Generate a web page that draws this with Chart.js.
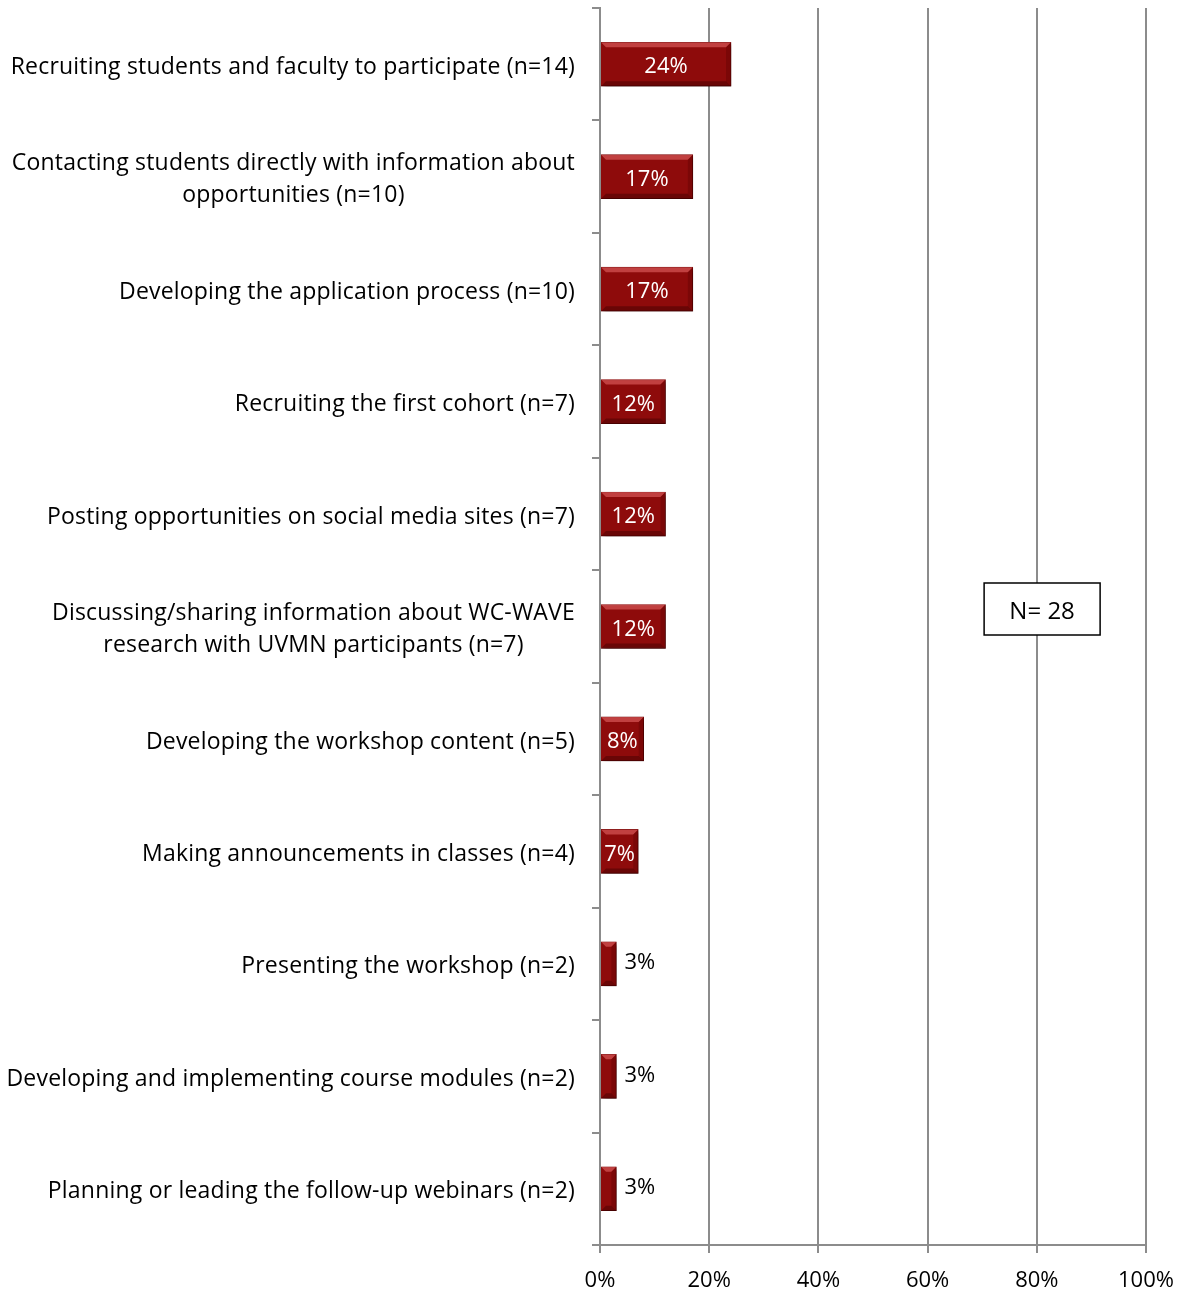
<!DOCTYPE html>
<html>
<head>
<meta charset="utf-8">
<title>Participation activities</title>
<script src="https://cdn.jsdelivr.net/npm/chart.js@4/dist/chart.umd.min.js"></script>
<style>
  html, body { margin: 0; padding: 0; background: #fff; }
  canvas { display: block; }
</style>
</head>
<body>
<canvas id="chart-activities" width="1182" height="1291"></canvas>
<script>
// category labels, one array per label line
var categories = [
    ["Recruiting students and faculty to participate (n=14)"],
    ["Contacting students directly with information about", "opportunities (n=10)"],
    ["Developing the application process (n=10)"],
    ["Recruiting the first cohort (n=7)"],
    ["Posting opportunities on social media sites (n=7)"],
    ["Discussing/sharing information about WC-WAVE", "research with UVMN participants (n=7)"],
    ["Developing the workshop content (n=5)"],
    ["Making announcements in classes (n=4)"],
    ["Presenting the workshop (n=2)"],
    ["Developing and implementing course modules (n=2)"],
    ["Planning or leading the follow-up webinars (n=2)"]
];
var percentValues = [24, 17, 17, 12, 12, 12, 8, 7, 3, 3, 3];
var xTickValues = [0, 20, 40, 60, 80, 100];
var sampleNote = "N= 28";

var FONT = "'Open Sans', 'Noto Sans', sans-serif";
var gridGray = "#8c8c8c";

// soft drop shadow under the bars
var barShadow = {
    id: "barShadow",
    beforeDatasetsDraw: function(chart) {
        var ctx = chart.ctx;
        ctx.save();
        ctx.shadowColor = "rgba(0,0,0,0.35)";
        ctx.shadowOffsetX = 3;
        ctx.shadowOffsetY = 3;
        ctx.shadowBlur = 4;
    },
    afterDatasetsDraw: function(chart) {
        var ctx = chart.ctx;
        ctx.restore();
        // bevel edges
        var meta = chart.getDatasetMeta(0);
        meta.data.forEach(function(bar) {
            var l = Math.min(bar.base, bar.x), r = Math.max(bar.base, bar.x);
            var t = bar.y - bar.height / 2, b = bar.y + bar.height / 2;
            var e = Math.min(5, (r - l) / 2);
            ctx.save();
            ctx.fillStyle = "rgba(235,110,110,0.55)";
            ctx.beginPath();
            ctx.moveTo(l, t); ctx.lineTo(r, t); ctx.lineTo(r - e, t + e); ctx.lineTo(l + e, t + e);
            ctx.closePath(); ctx.fill();
            ctx.fillStyle = "rgba(60,0,0,0.45)";
            ctx.beginPath();
            ctx.moveTo(l, b); ctx.lineTo(r, b); ctx.lineTo(r - e, b - e); ctx.lineTo(l + e, b - e);
            ctx.closePath(); ctx.fill();
            ctx.fillStyle = "rgba(90,0,0,0.35)";
            ctx.beginPath();
            ctx.moveTo(r, t); ctx.lineTo(r, b); ctx.lineTo(r - e, b - e); ctx.lineTo(r - e, t + e);
            ctx.closePath(); ctx.fill();
            ctx.restore();
        });
    }
};

// category text, value labels and the N box
var chartText = {
    id: "chartText",
    afterDraw: function(chart) {
        var ctx = chart.ctx;
        var yScale = chart.scales.y;
        var area = chart.chartArea;
        ctx.save();
        ctx.font = "23px " + FONT;
        ctx.letterSpacing = "0.2px";
        ctx.fillStyle = "#000";
        ctx.textBaseline = "middle";
        ctx.textAlign = "center";
        var lineH = 32;
        categories.forEach(function(lines, i) {
            var cy = yScale.getPixelForValue(i);
            var w = 0;
            lines.forEach(function(s) { w = Math.max(w, ctx.measureText(s).width); });
            var cx = 575 - w / 2;
            var y0 = cy - (lines.length - 1) * lineH / 2 + 3;
            lines.forEach(function(s, k) { ctx.fillText(s, cx, y0 + k * lineH); });
        });

        ctx.font = "22px " + FONT;
        ctx.letterSpacing = "0px";
        var meta = chart.getDatasetMeta(0);
        meta.data.forEach(function(bar, i) {
            var txt = percentValues[i] + "%";
            var tw = ctx.measureText(txt).width;
            var w = Math.abs(bar.x - bar.base);
            if (w >= tw - 2) {
                ctx.fillStyle = "#fff";
                ctx.textAlign = "center";
                ctx.fillText(txt, (bar.x + bar.base) / 2, bar.y + 3);
            } else {
                ctx.fillStyle = "#000";
                ctx.textAlign = "left";
                ctx.fillText(txt, bar.x + 8, bar.y - 1);
            }
        });

        var xScale = chart.scales.x;
        var bx = xScale.getPixelForValue(70.35), by = area.top + 575;
        ctx.fillStyle = "#fff";
        ctx.fillRect(bx, by, 116, 52);
        ctx.strokeStyle = "#000";
        ctx.lineWidth = 1.5;
        ctx.strokeRect(bx, by, 116, 52);
        ctx.fillStyle = "#000";
        ctx.textAlign = "center";
        ctx.font = "24px " + FONT;
        ctx.fillText(sampleNote, bx + 58, by + 29);
        ctx.restore();
    }
};

var ctx = document.getElementById("chart-activities");
var chart = new Chart(ctx, {
    type: "bar",
    data: {
        labels: categories.map(function(l) { return l.join(" "); }),
        datasets: [{
            label: "Percent",
            data: percentValues,
            backgroundColor: "#8e0b0b",
            borderColor: "#6e0000",
            borderWidth: 1,
            barThickness: 44
        }]
    },
    options: {
        indexAxis: "y",
        responsive: false,
        animation: false,
        devicePixelRatio: 1,
        layout: { padding: { top: 8, right: 36, bottom: 0, left: 0 } },
        plugins: {
            legend: { display: false },
            tooltip: { enabled: false }
        },
        scales: {
            x: {
                min: 0,
                max: 100,
                afterBuildTicks: function(s) {
                    s.ticks = xTickValues.map(function(v) { return { value: v }; });
                },
                afterFit: function(s) {
                    s.height = 46;
                    s.paddingRight = 0;
                    s.paddingLeft = 0;
                },
                ticks: {
                    callback: function(v) { return v + "%"; },
                    font: { family: FONT, size: 22 },
                    color: "#000",
                    padding: 15,
                    maxRotation: 0
                },
                grid: { color: gridGray, lineWidth: 2, tickLength: 8 },
                border: { color: gridGray, width: 2 }
            },
            y: {
                afterFit: function(s) { s.width = 600; },
                ticks: { display: false },
                grid: {
                    drawOnChartArea: false,
                    drawTicks: true,
                    tickLength: 8,
                    offset: true,
                    color: gridGray,
                    lineWidth: 2
                },
                border: { color: gridGray, width: 2 }
            }
        }
    },
    plugins: [barShadow, chartText]
});
</script>
</body>
</html>
